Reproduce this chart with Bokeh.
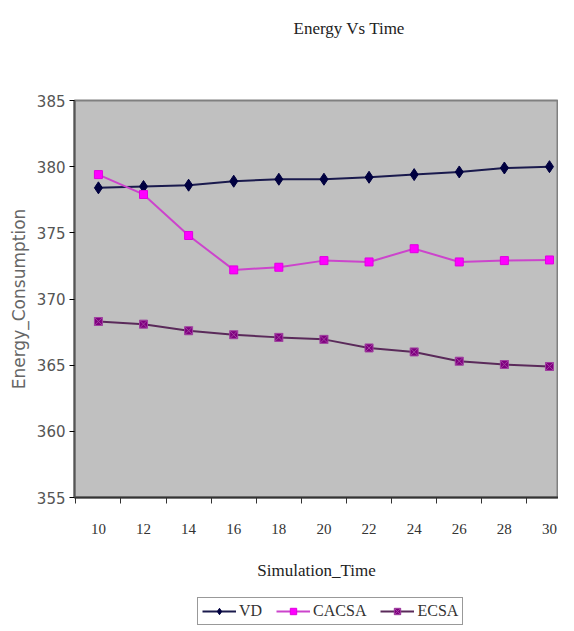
from bokeh.plotting import figure
from bokeh.models import Range1d, FixedTicker, Legend, LegendItem, ColumnDataSource, Div
from bokeh.layouts import column
from bokeh.embed import file_html
from bokeh.resources import INLINE

# ---- data ----
sim_time = [10, 12, 14, 16, 18, 20, 22, 24, 26, 28, 30]
tick_labels = ["10", "12", "14", "16", "18", "20", "22", "24", "26", "28", "30"]
vd = [378.4, 378.5, 378.6, 378.9, 379.05, 379.05, 379.2, 379.4, 379.6, 379.9, 380.0]
cacsa = [379.4, 377.9, 374.8, 372.2, 372.4, 372.9, 372.8, 373.8, 372.8, 372.9, 372.95]
ecsa = [368.3, 368.1, 367.6, 367.3, 367.1, 366.95, 366.3, 366.0, 365.3, 365.05, 364.9]
y_ticks = [355, 360, 365, 370, 375, 380, 385]
series_names = ["VD", "CACSA", "ECSA"]
title_text = "Energy Vs Time"

FONT = "Liberation Serif"
SANS = "DejaVu Sans"

colors = {
    "VD": dict(line="#1a1a4d", fill="#000040", edge="#000040", marker="diamond", size=12),
    "CACSA": dict(line="#cc44cc", fill="#ff00ff", edge="#e000e0", marker="square", size=8),
    "ECSA": dict(line="#5a2a5a", fill="#800080", edge="#a040a0", marker="square_x", size=8),
}

# ---- title (as a text block above the chart) ----
title_div = Div(text=title_text, width=558, height=60,
                styles={"font-family": "'Liberation Serif', serif", "font-size": "17px",
                        "color": "#222222", "text-align": "center",
                        "padding-left": "130px", "padding-top": "12px",
                        "box-sizing": "border-box", "width": "558px"})

# ---- main chart ----
p = figure(width=558, height=525, output_backend="svg", toolbar_location=None,
           x_range=Range1d(8.94, 30.40), y_range=Range1d(355, 385),
           min_border_left=74, min_border_right=0, min_border_top=30,
           min_border_bottom=98)

p.background_fill_color = "#c0c0c0"
p.border_fill_color = "white"
p.outline_line_color = "#808080"
p.outline_line_width = 2
p.grid.visible = False

# x axis
xa = p.xaxis[0]
xa.ticker = FixedTicker(ticks=sim_time, minor_ticks=[9, 11, 13, 15, 17, 19, 21, 23, 25, 27, 29])
xa.major_label_overrides = {t: l for t, l in zip(sim_time, tick_labels)}
xa.major_tick_line_color = None
xa.major_tick_out = 6
xa.major_tick_in = 0
xa.minor_tick_out = 6
xa.minor_tick_in = 0
xa.minor_tick_line_color = "#333333"
xa.major_label_standoff = 20
xa.major_label_text_font = FONT
xa.major_label_text_font_size = "15px"
xa.major_label_text_color = "#333333"
xa.axis_label = "Simulation_Time"
xa.axis_label_text_font = FONT
xa.axis_label_text_font_size = "17px"
xa.axis_label_text_font_style = "normal"
xa.axis_label_text_color = "#222222"
xa.axis_label_standoff = 24
xa.axis_line_color = "#333333"
xa.axis_line_width = 2

# y axis
ya = p.yaxis[0]
ya.ticker = FixedTicker(ticks=y_ticks)
ya.major_tick_out = 5
ya.major_tick_in = 0
ya.minor_tick_line_color = None
ya.major_label_standoff = 4
ya.major_label_text_font = SANS
ya.major_label_text_font_size = "15px"
ya.major_label_text_color = "#555555"
ya.axis_label = "Energy_Consumption"
ya.axis_label_text_font = SANS
ya.axis_label_text_font_size = "17px"
ya.axis_label_text_font_style = "normal"
ya.axis_label_text_color = "#666666"
ya.axis_label_standoff = 5
ya.axis_line_color = "#555555"
ya.axis_line_width = 2

src = ColumnDataSource(dict(x=sim_time, VD=vd, CACSA=cacsa, ECSA=ecsa))
for name in series_names:
    c = colors[name]
    p.line("x", name, source=src, line_color=c["line"], line_width=2)
    p.scatter("x", name, source=src, marker=c["marker"], size=c["size"],
              fill_color=c["fill"], line_color=c["edge"])

# ---- legend strip (separate small canvas under the chart) ----
# same data source, but this canvas's ranges keep the series out of view so that
# only the legend entries show.
pl = figure(width=558, height=30, output_backend="svg", toolbar_location=None,
            x_range=Range1d(0, 1), y_range=Range1d(0, 1),
            x_axis_location=None, y_axis_location=None,
            min_border_left=0, min_border_right=0, min_border_top=0, min_border_bottom=0)
pl.grid.visible = False
pl.outline_line_color = None
pl.background_fill_color = "white"
pl.border_fill_color = "white"

items = []
for name in series_names:
    c = colors[name]
    lr = pl.line("x", name, source=src, line_color=c["line"], line_width=2)
    mr = pl.scatter("x", name, source=src, marker=c["marker"], size=c["size"],
                    fill_color=c["fill"], line_color=c["edge"])
    items.append(LegendItem(label=name, renderers=[lr, mr]))

legend = Legend(items=items, orientation="horizontal", location=(123, 0),
                label_text_font=FONT, label_text_font_size="16px",
                label_text_color="#333333", label_height=16,
                glyph_width=34, glyph_height=16, spacing=14, padding=4,
                label_standoff=3, margin=0,
                border_line_color="#333333", border_line_width=1,
                background_fill_color="white", background_fill_alpha=1)
pl.add_layout(legend, "center")

layout = column(title_div, p, pl, spacing=0)

open("out.html", "w").write(file_html(layout, INLINE))
